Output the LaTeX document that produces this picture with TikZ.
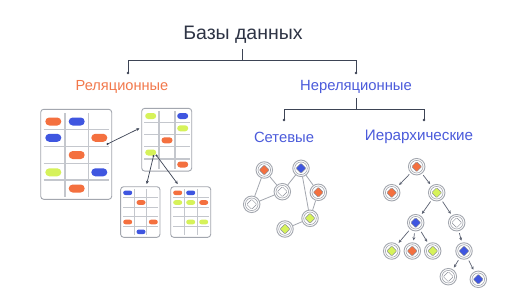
\documentclass[tikz,border=0pt]{standalone}
\usepackage{fontspec}
\setmainfont{Liberation Sans}
\usetikzlibrary{arrows.meta,calc}
\definecolor{cOr}{HTML}{F4703F}
\definecolor{cBl}{HTML}{3F56E0}
\definecolor{cLi}{HTML}{D6F25A}
\definecolor{cTxt}{HTML}{2E3445}
\definecolor{cOrT}{HTML}{F2784B}
\definecolor{cBlT}{HTML}{4B5BDB}
\definecolor{cGr}{HTML}{A3A7AF}
\definecolor{cGrL}{HTML}{C4C7CD}
\definecolor{cLn}{HTML}{3D4455}
\definecolor{cAr}{HTML}{5C6272}
\tikzset{
  treeline/.style={cLn, line width=0.8pt},
  tdot/.style={circle, fill=cLn, inner sep=0pt, minimum size=2.6pt},
  tbl/.style={draw=cGr, line width=0.9pt, rounded corners=3pt, fill=white, inner sep=0pt},
  grid/.style={cGrL, line width=1.1pt},
  pill/.style={fill=#1, rounded corners=2.8pt, inner sep=0pt, draw=none},
  bigpill/.style={pill=#1, minimum width=16pt, minimum height=8pt, rounded corners=4pt},
  midpill/.style={pill=#1, minimum width=11pt, minimum height=6pt, rounded corners=3pt},
  smpill/.style={pill=#1, minimum width=9pt, minimum height=4.6pt, rounded corners=2.3pt},
  tarrow/.style={cLn, line width=0.7pt, -{Stealth[length=3.2pt,width=3pt]}},
  sdot/.style={circle, fill=cLn, inner sep=0pt, minimum size=2.2pt},
  gn/.style={circle, draw=cGr, line width=0.9pt, minimum size=16.5pt, inner sep=0pt, fill=white,
    path picture={
      \draw[cGr, line width=0.6pt] (path picture bounding box.center) circle (6.3pt);
      \filldraw[fill=#1, draw=cTxt!55, line width=0.45pt, rounded corners=0.8pt]
        ([yshift=5pt]path picture bounding box.center) -- ([xshift=5pt]path picture bounding box.center)
        -- ([yshift=-5pt]path picture bounding box.center) -- ([xshift=-5pt]path picture bounding box.center) -- cycle;
    }},
  gedge/.style={cGr, line width=0.8pt},
  harrow/.style={cAr, line width=0.7pt, shorten >=2pt, shorten <=2pt, -{Stealth[length=3.2pt,width=3pt]}},
}
\begin{document}
\begin{tikzpicture}[x=1pt,y=-1pt]
\useasboundingbox (0,0) rectangle (516,289);
\fill[white] (0,0) rectangle (516,289);

% ---------- titles ----------
\node[text=cTxt, font=\fontsize{19.5}{21}\selectfont] (title) at (243,35) {Базы данных};
\node[text=cOrT, font=\fontsize{14.6}{16}\selectfont] (rel) at (122,87) {Реляционные};
\node[text=cBlT, font=\fontsize{14.8}{16}\selectfont] (nrel) at (356,87) {Нереляционные};
\node[text=cBlT, font=\fontsize{14.8}{16}\selectfont] (net) at (284,137) {Сетевые};
\node[text=cBlT, font=\fontsize{15.2}{16}\selectfont] (hier) at (419,137) {Иерархические};

\coordinate (t1) at (242,49);
\node[tdot] (d1) at (128,73) {};
\node[tdot] (d2) at (356,73) {};
\draw[treeline] (t1) -- ++(0,11) -| (d1.center);
\draw[treeline] (t1) ++(0,11) -| (d2.center);
\coordinate (t2) at (356,98);
\node[tdot] (d3) at (284,120) {};
\node[tdot] (d4) at (424,120) {};
\draw[treeline] (t2) -- ++(0,11) -| (d3.center);
\draw[treeline] (t2) ++(0,11) -| (d4.center);

% ---------- tables ----------
% big table
\node[tbl, minimum width=71pt, minimum height=90pt] (T1) at (76.2,154.3) {};
\foreach \x in {65,88.3} \draw[grid] (\x,113) -- (\x,196.5);
\foreach \y in {129.3,146.7,163.3,180} \draw[grid] (43.5,\y) -- (109,\y);
\node[bigpill=cOr] (a11) at (53.3,121.5) {};
\node[bigpill=cBl] (a12) at (76.7,121.5) {};
\node[bigpill=cBl] (a21) at (53.3,137.8) {};
\node[bigpill=cOr] (a23) at (99.3,137.8) {};
\node[bigpill=cOr] (a32) at (76.7,155) {};
\node[bigpill=cLi] (a41) at (53.3,172.3) {};
\node[bigpill=cBl] (a43) at (99.3,172.3) {};
\node[bigpill=cOr] (a52) at (76.7,188.5) {};

% top right table
\node[tbl, minimum width=50pt, minimum height=62.7pt] (T2) at (166.7,139.7) {};
\foreach \x in {159,175} \draw[grid] (\x,111) -- (\x,168.5);
\foreach \y in {122.7,134.3,146.7,159} \draw[grid] (144,\y) -- (189.5,\y);
\node[midpill=cLi] (b11) at (150.7,116) {};
\node[midpill=cBl] (b13) at (182.7,116) {};
\node[midpill=cLi] (b23) at (182.7,128.3) {};
\node[midpill=cOr] (b32) at (167,140.3) {};
\node[midpill=cLi] (b41) at (150.7,152.5) {};
\node[midpill=cOr] (b53) at (182.7,164.5) {};

% bottom left table
\node[tbl, minimum width=39.3pt, minimum height=50.6pt] (T3) at (140.3,212) {};
\foreach \x in {134.3,146.7} \draw[grid] (\x,189) -- (\x,235);
\foreach \y in {197.7,207.3,216.7,226.7} \draw[grid] (123,\y) -- (158,\y);
\node[smpill=cBl] (c11) at (127.7,192.8) {};
\node[smpill=cOr] (c22) at (141,202.5) {};
\node[smpill=cOr] (c41) at (127.7,222) {};
\node[smpill=cOr] (c43) at (153.3,222) {};
\node[smpill=cBl] (c52) at (141,231.8) {};

% bottom right table
\node[tbl, minimum width=40pt, minimum height=50.6pt] (T4) at (190.7,212) {};
\foreach \x in {184.3,197.3} \draw[grid] (\x,189) -- (\x,235);
\foreach \y in {197.7,207.3,216.7,226.7} \draw[grid] (173,\y) -- (208.5,\y);
\node[smpill=cOr] (e11) at (177.7,192.8) {};
\node[smpill=cBl] (e12) at (190.7,192.8) {};
\node[smpill=cLi] (e21) at (177.7,202.5) {};
\node[smpill=cLi] (e22) at (190.7,202.5) {};
\node[smpill=cOr] (e23) at (203.7,202.5) {};
\node[smpill=cLi] (e42) at (190.7,222) {};
\node[smpill=cLi] (e43) at (203.7,222) {};

% table arrows
\node[sdot] (s1) at (107.5,144) {};
\coordinate (e1) at (139.5,128.3);
\draw[tarrow] (s1.center) -- (e1);
\node[sdot] (s2) at (153.5,156) {};
\node[sdot] (s3) at (156.5,155.5) {};
\coordinate (e2) at (146.7,184);
\coordinate (e3) at (177.7,184);
\draw[tarrow] (s2.center) -- (e2);
\draw[tarrow] (s3.center) -- (e3);

% ---------- network ----------
\node[gn=cOr] (nA) at (264.3,170) {};
\node[gn=cBl] (nB) at (301,168.3) {};
\node[gn=white] (nC) at (282.3,191.7) {};
\node[gn=cOr] (nD) at (318.3,192.3) {};
\node[gn=white] (nE) at (251.7,204.3) {};
\node[gn=cLi] (nF) at (310,218.3) {};
\node[gn=cLi] (nG) at (285,229) {};
\draw[gedge] (nA) -- (nE);
\draw[gedge] (nA) -- (nC);
\draw[gedge] (nC) -- (nE);
\draw[gedge] (nC) -- (nB);
\draw[gedge] (nB) -- (nD);
\draw[gedge] (nB) -- (nF);
\draw[gedge] (nD) -- (nF);
\draw[gedge] (nF) -- (nG);

% ---------- hierarchy ----------
\node[gn=cOr] (hR) at (416.7,166.7) {};
\node[gn=cOr] (hL1) at (391.7,192.7) {};
\node[gn=cLi] (hL2) at (436.7,192.7) {};
\node[gn=cBl] (hM1) at (415.7,222.7) {};
\node[gn=white] (hM2) at (456.7,222.7) {};
\node[gn=cLi] (hN1) at (391.7,251) {};
\node[gn=cOr] (hN2) at (412.3,251) {};
\node[gn=cLi] (hN3) at (432.7,251) {};
\node[gn=cBl] (hN4) at (464,251) {};
\node[gn=white] (hO1) at (448.3,276.7) {};
\node[gn=cBl] (hO2) at (478.3,279.3) {};
\draw[harrow] (hR) -- (hL1);
\draw[harrow] (hR) -- (hL2);
\draw[harrow] (hL2) -- (hM1);
\draw[harrow] (hL2) -- (hM2);
\draw[harrow] (hM1) -- (hN1);
\draw[harrow] (hM1) -- (hN2);
\draw[harrow] (hM1) -- (hN3);
\draw[harrow] (hM2) -- (hN4);
\draw[harrow] (hN4) -- (hO1);
\draw[harrow] (hN4) -- (hO2);
\end{tikzpicture}
\end{document}
